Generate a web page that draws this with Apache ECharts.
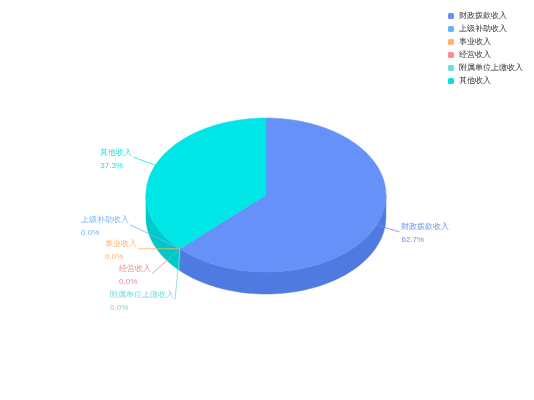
<!DOCTYPE html>
<html><head><meta charset="utf-8">
<script src="https://cdn.jsdelivr.net/npm/echarts@6/dist/echarts.min.js"></script>
<style>html,body{margin:0;padding:0;background:#fff}#main{width:534px;height:400px}</style>
</head><body><div id="main"></div>
<script>
const categories = ['财政拨款收入', '上级补助收入', '事业收入', '经营收入', '附属单位上缴收入', '其他收入'];
const values = [62.7, 0, 0, 0, 0, 37.3];

const legendColors = ['#6b8ff8', '#63b4fd', '#fdb46a', '#fb8b8b', '#74ddd8', '#00e3e3'];
const topColors = ['#6691f8', '#63b4fd', '#fdb46a', '#fb8b8b', '#74ddd8', '#00e5e5'];
const sideColors = ['#4f7be0', '#4e9be0', '#e09a50', '#e07070', '#5cc4c0', '#00c9c9'];
const labelColors = ['#6e8ff2', '#73b5f5', '#fbb46b', '#f58a8a', '#78dcd8', '#1fe0e0'];
// leader-line end offsets relative to the slice anchor (layout only)
const labelOffsets = [[23, 7], [-50, -24], [-42, 0], [-28, 25], [-5, 51], [-22, -8]];
const labelSides = ['right', 'left', 'left', 'left', 'left', 'left'];

const total = values.reduce((a, b) => a + b, 0);
const starts = [], ends = [];
let acc = 0;
values.forEach(v => { starts.push(acc / total * 360); acc += v; ends.push(acc / total * 360); });

const FONT_SIZE = 8;
const measureCtx = document.createElement('canvas').getContext('2d');
measureCtx.font = FONT_SIZE + 'px sans-serif';
function textW(s) { return measureCtx.measureText(s).width; }

function makeRender(i) {
  return function (params, api) {
    const W = api.getWidth(), H = api.getHeight();
    const cx = W * 0.498, cy = H * 0.4875, rx = W * 0.2247, ry = H * 0.1925, h = H * 0.055;
    const v = api.value(0);
    const a0 = starts[i], a1 = ends[i];
    const P = (d, dy) => { const r = d * Math.PI / 180; return [cx + rx * Math.sin(r), cy - ry * Math.cos(r) + (dy || 0)]; };
    const arc = (from, to, dy) => {
      const pts = [];
      const n = Math.max(2, Math.ceil(Math.abs(to - from) / 2));
      for (let k = 0; k <= n; k++) pts.push(P(from + (to - from) * k / n, dy));
      return pts;
    };
    const children = [];
    if (a1 > a0) {
      const s0 = Math.max(a0, 90), s1 = Math.min(a1, 270);
      if (s1 > s0) {
        const pts = arc(s0, s1, 0).concat(arc(s1, s0, h));
        children.push({ type: 'polygon', shape: { points: pts },
          style: { fill: sideColors[i], stroke: sideColors[i], lineWidth: 0.5 } });
      }
      const tpts = [[cx, cy]].concat(arc(a0, a1, 0));
      children.push({ type: 'polygon', shape: { points: tpts },
        style: { fill: topColors[i], stroke: topColors[i], lineWidth: 0.5 } });
    }
    const mid = v > 0 ? (a0 + a1) / 2 : a0;
    const anchor = P(mid);
    const end = [anchor[0] + labelOffsets[i][0], anchor[1] + labelOffsets[i][1]];
    children.push({ type: 'polyline', z2: 100, shape: { points: [anchor, end] },
      style: { stroke: labelColors[i], lineWidth: 1, fill: null, opacity: 0.8 } });
    const pct = (v / total * 100).toFixed(1) + '%';
    const name = categories[i];
    const tw = Math.max(textW(name), textW(pct));
    const right = labelSides[i] === 'right';
    const tx = right ? end[0] + 2 : end[0] - 1 - tw;
    children.push({ type: 'text', z2: 101, x: tx, y: end[1] + (right ? 1 : 2),
      style: { text: name + '\n' + pct, fill: labelColors[i], fontSize: FONT_SIZE,
        fontFamily: 'sans-serif', align: 'left', verticalAlign: 'middle', lineHeight: 13 } });
    return { type: 'group', children };
  };
}

const chart = echarts.init(document.getElementById('main'));
chart.setOption({
  animation: false,
  legend: {
    orient: 'vertical', right: 6, top: 7, align: 'left',
    itemWidth: 6, itemHeight: 6, itemGap: 5, icon: 'roundRect',
    textStyle: { fontSize: 8, color: '#333' },
    data: categories
  },
  series: categories.map((name, i) => ({
    type: 'custom', name, coordinateSystem: 'none',
    itemStyle: { color: legendColors[i] },
    renderItem: makeRender(i),
    data: [[values[i]]]
  }))
});
</script></body></html>
